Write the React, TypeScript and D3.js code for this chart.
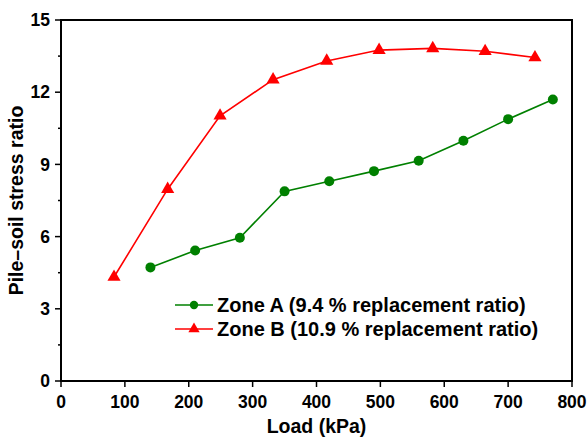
import React from "react";
import * as d3 from "d3";

// load (kPa) and pile-soil stress ratio
const loadA = [140, 210, 280, 350, 420, 490, 560, 630, 700, 770];
const ratioA = [4.72, 5.42, 5.95, 7.88, 8.3, 8.72, 9.15, 9.98, 10.88, 11.7];
const loadB = [83, 167, 249, 332, 416, 498, 582, 664, 742];
const ratioB = [4.32, 7.97, 11.02, 12.52, 13.3, 13.75, 13.82, 13.7, 13.44];

const xTicks = [0, 100, 200, 300, 400, 500, 600, 700, 800];
const yTicks = [0, 3, 6, 9, 12, 15];
const yMinorTicks = [1.5, 4.5, 7.5, 10.5, 13.5];

const labelA = "Zone A (9.4 % replacement ratio)";
const labelB = "Zone B (10.9 % replacement ratio)";

const W = 588;
const H = 438;
const m = { left: 61, right: 16, top: 20, bottom: 57 };
const font = "'Liberation Sans', Arial, sans-serif";

export default function App() {
  const x = d3.scaleLinear().domain([0, 800]).range([m.left, W - m.right]);
  const y = d3.scaleLinear().domain([0, 15]).range([H - m.bottom, m.top]);

  const seriesA = loadA.map((d, i) => ({ x: d, y: ratioA[i] }));
  const seriesB = loadB.map((d, i) => ({ x: d, y: ratioB[i] }));

  // line renderer
  const line = d3
    .line<{ x: number; y: number }>()
    .x((d) => x(d.x))
    .y((d) => y(d.y));

  const tri = d3.symbol().type(d3.symbolTriangle).size(75)();
  const triSmall = d3.symbol().type(d3.symbolTriangle).size(55)();

  const green = "#008000";
  const red = "#ff0000";
  const x0 = x(0);
  const y0 = y(0);

  const legX = 175;
  const legY = [305, 329];

  return (
    <svg
      width={W}
      height={H}
      style={{ position: "absolute", left: 0, top: 0, background: "#fff" }}
      fontFamily={font}
      fontWeight="bold"
    >
      {/* frame */}
      <rect
        x={m.left}
        y={m.top}
        width={W - m.left - m.right}
        height={H - m.top - m.bottom}
        fill="none"
        stroke="#000"
        strokeWidth={2}
      />
      {/* x axis ticks */}
      {xTicks.map((t) => (
        <g key={"x" + t}>
          <line x1={x(t)} x2={x(t)} y1={y0} y2={y0 + 6} stroke="#000" strokeWidth={1.5} />
          <text x={x(t)} y={y0 + 27} textAnchor="middle" fontSize={17.5}>
            {t}
          </text>
        </g>
      ))}
      {/* y axis ticks */}
      {yTicks.map((t) => (
        <g key={"y" + t}>
          <line x1={x0} x2={x0 - 6} y1={y(t)} y2={y(t)} stroke="#000" strokeWidth={1.5} />
          <text x={x0 - 11} y={y(t)} dy="0.35em" textAnchor="end" fontSize={17.5}>
            {t}
          </text>
        </g>
      ))}
      {yMinorTicks.map((t) => (
        <line key={"ym" + t} x1={x0} x2={x0 - 3} y1={y(t)} y2={y(t)} stroke="#000" strokeWidth={1.5} />
      ))}
      {/* axis titles */}
      <text x={(x(0) + x(800)) / 2} y={H - 5} textAnchor="middle" fontSize={19.5}>
        Load (kPa)
      </text>
      <text
        transform={`translate(23,${(y(0) + y(15)) / 2}) rotate(-90)`}
        textAnchor="middle"
        fontSize={19.5}
      >
        Pile–soil stress ratio
      </text>
      {/* series */}
      <path d={line(seriesB) ?? ""} fill="none" stroke={red} strokeWidth={1.6} />
      <path d={line(seriesA) ?? ""} fill="none" stroke={green} strokeWidth={1.6} />
      {seriesA.map((d, i) => (
        <circle key={"a" + i} cx={x(d.x)} cy={y(d.y)} r={5} fill={green} />
      ))}
      {seriesB.map((d, i) => (
        <path key={"b" + i} d={tri ?? ""} transform={`translate(${x(d.x)},${y(d.y)})`} fill={red} />
      ))}
      {/* legend */}
      <line x1={legX} x2={legX + 38} y1={legY[0]} y2={legY[0]} stroke={green} strokeWidth={1.6} />
      <circle cx={legX + 19} cy={legY[0]} r={4.2} fill={green} />
      <text x={legX + 42} y={legY[0]} dy="0.35em" fontSize={20}>
        {labelA}
      </text>
      <line x1={legX} x2={legX + 38} y1={legY[1]} y2={legY[1]} stroke={red} strokeWidth={1.6} />
      <path d={triSmall ?? ""} transform={`translate(${legX + 19},${legY[1]})`} fill={red} />
      <text x={legX + 42} y={legY[1]} dy="0.35em" fontSize={20}>
        {labelB}
      </text>
    </svg>
  );
}
